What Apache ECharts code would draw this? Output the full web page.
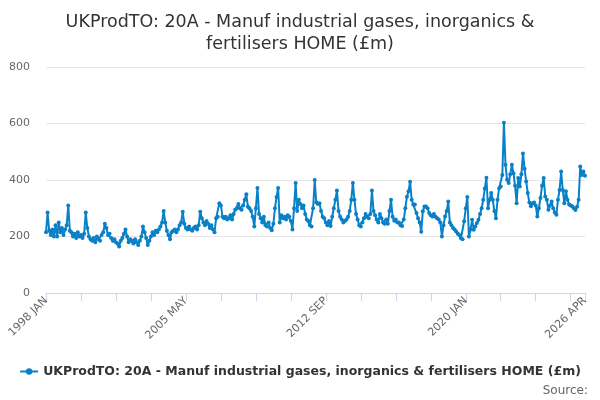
<!DOCTYPE html>
<html>
<head>
<meta charset="utf-8">
<script src="https://cdn.jsdelivr.net/npm/echarts@6/dist/echarts.min.js"></script>
<style>html,body{margin:0;padding:0;background:#fff;}</style>
</head>
<body>
<div id="chart" style="width:600px;height:400px"></div>
<script>
var months = ["JAN","FEB","MAR","APR","MAY","JUN","JUL","AUG","SEP","OCT","NOV","DEC"];
var firstYear = 1998;
var seriesName = "UKProdTO: 20A - Manuf industrial gases, inorganics & fertilisers HOME (£m)";

// monthly values, one row per year (£m)
var y1998 = [215, 285, 220, 205, 225, 200, 240, 200, 250, 215, 230, 205];
var y1999 = [225, 240, 310, 220, 215, 200, 210, 195, 215, 200, 205, 195];
var y2000 = [210, 285, 230, 200, 190, 185, 195, 180, 200, 190, 185, 205];
var y2001 = [215, 245, 230, 205, 210, 195, 185, 190, 180, 175, 165, 185];
var y2002 = [195, 210, 225, 200, 180, 190, 185, 175, 190, 180, 170, 185];
var y2003 = [200, 235, 215, 195, 170, 185, 200, 215, 205, 220, 215, 225];
var y2004 = [235, 250, 290, 250, 220, 205, 190, 215, 220, 225, 215, 225];
var y2005 = [240, 250, 288, 245, 230, 225, 235, 225, 220, 230, 235, 225];
var y2006 = [240, 288, 265, 250, 240, 255, 245, 230, 240, 225, 215, 265];
var y2007 = [270, 318, 310, 270, 265, 270, 260, 265, 275, 260, 280, 295];
var y2008 = [300, 315, 300, 295, 310, 330, 350, 305, 300, 290, 270, 235];
var y2009 = [300, 372, 280, 265, 250, 270, 240, 235, 250, 230, 222, 245];
var y2010 = [300, 340, 372, 250, 275, 265, 270, 260, 275, 270, 255, 225];
var y2011 = [300, 389, 290, 330, 315, 300, 310, 280, 260, 255, 240, 235];
var y2012 = [300, 400, 320, 315, 318, 290, 270, 265, 250, 240, 255, 237];
var y2013 = [270, 300, 330, 363, 290, 270, 260, 250, 255, 260, 270, 290];
var y2014 = [330, 389, 330, 280, 260, 240, 235, 250, 265, 280, 270, 265];
var y2015 = [280, 363, 290, 275, 260, 250, 280, 265, 250, 245, 260, 245];
var y2016 = [290, 330, 270, 256, 260, 250, 250, 240, 237, 260, 300, 341];
var y2017 = [360, 394, 330, 313, 313, 283, 265, 250, 217, 289, 306, 306];
var y2018 = [300, 283, 275, 271, 280, 270, 265, 260, 250, 200, 240, 271];
var y2019 = [290, 324, 250, 240, 230, 225, 218, 210, 205, 194, 190, 254];
var y2020 = [300, 340, 200, 225, 259, 224, 235, 248, 259, 280, 300, 330];
var y2021 = [370, 408, 300, 330, 354, 330, 290, 265, 330, 371, 377, 418];
var y2022 = [603, 454, 401, 389, 420, 454, 424, 380, 318, 407, 377, 420];
var y2023 = [494, 440, 395, 354, 320, 307, 318, 320, 310, 271, 300, 336];
var y2024 = [380, 407, 342, 330, 295, 310, 324, 300, 285, 277, 330, 365];
var y2025 = [430, 365, 318, 360, 330, 313, 310, 307, 300, 294, 305, 330];
var y2026 = [448, 418, 430, 415];

var values = [].concat(y1998, y1999, y2000, y2001, y2002, y2003, y2004, y2005, y2006, y2007,
   y2008, y2009, y2010, y2011, y2012, y2013, y2014, y2015, y2016, y2017,
   y2018, y2019, y2020, y2021, y2022, y2023, y2024, y2025, y2026);

var labels = [];
for (var i = 0; i < values.length; i++) {
   labels.push((firstYear + Math.floor(i / 12)) + " " + months[i % 12]);
}
var last = values.length - 1;

var chart = echarts.init(document.getElementById("chart"));
chart.setOption({
   animation: false,
   textStyle: {fontFamily: "DejaVu Sans"},
   title: {
      text: "UKProdTO: 20A - Manuf industrial gases, inorganics &\nfertilisers HOME (£m)",
      left: "center",
      top: 6,
      textStyle: {fontSize: 17.5, fontWeight: "normal", color: "#333333", lineHeight: 22}
   },
   legend: {
      bottom: 17,
      left: "center",
      itemWidth: 18,
      itemHeight: 8,
      itemGap: 5,
      textStyle: {fontSize: 12.5, fontWeight: "bold", color: "#333333"},
      data: [seriesName]
   },
   graphic: [{
      type: "text",
      right: 12,
      bottom: 3,
      style: {text: "Source:", fontSize: 12, fill: "#666666", fontFamily: "DejaVu Sans"}
   }],
   grid: {left: 46, right: 15, top: 67, bottom: 107},
   xAxis: {
      type: "category",
      boundaryGap: false,
      data: labels,
      axisLine: {lineStyle: {color: "#ccd6eb"}},
      axisTick: {
         length: 8,
         lineStyle: {color: "#ccd6eb"},
         interval: function (idx) { return idx % 22 === 0 || idx === last; }
      },
      axisLabel: {
         rotate: 45,
         fontSize: 11,
         color: "#666666",
         margin: 6,
         interval: function (idx) { return idx % 88 === 0 || idx === last; }
      }
   },
   yAxis: {
      type: "value",
      min: 0,
      max: 800,
      interval: 200,
      axisLine: {show: false},
      axisTick: {show: false},
      axisLabel: {fontSize: 11, color: "#666666", margin: 16},
      splitLine: {lineStyle: {color: "#e6e6e6"}}
   },
   series: [{
      name: seriesName,
      type: "line",
      data: values,
      symbol: "circle",
      symbolSize: 4,
      showAllSymbol: true,
      lineStyle: {width: 2, color: "#0a80c6"},
      itemStyle: {color: "#0a80c6"}
   }]
});
</script>
</body>
</html>
